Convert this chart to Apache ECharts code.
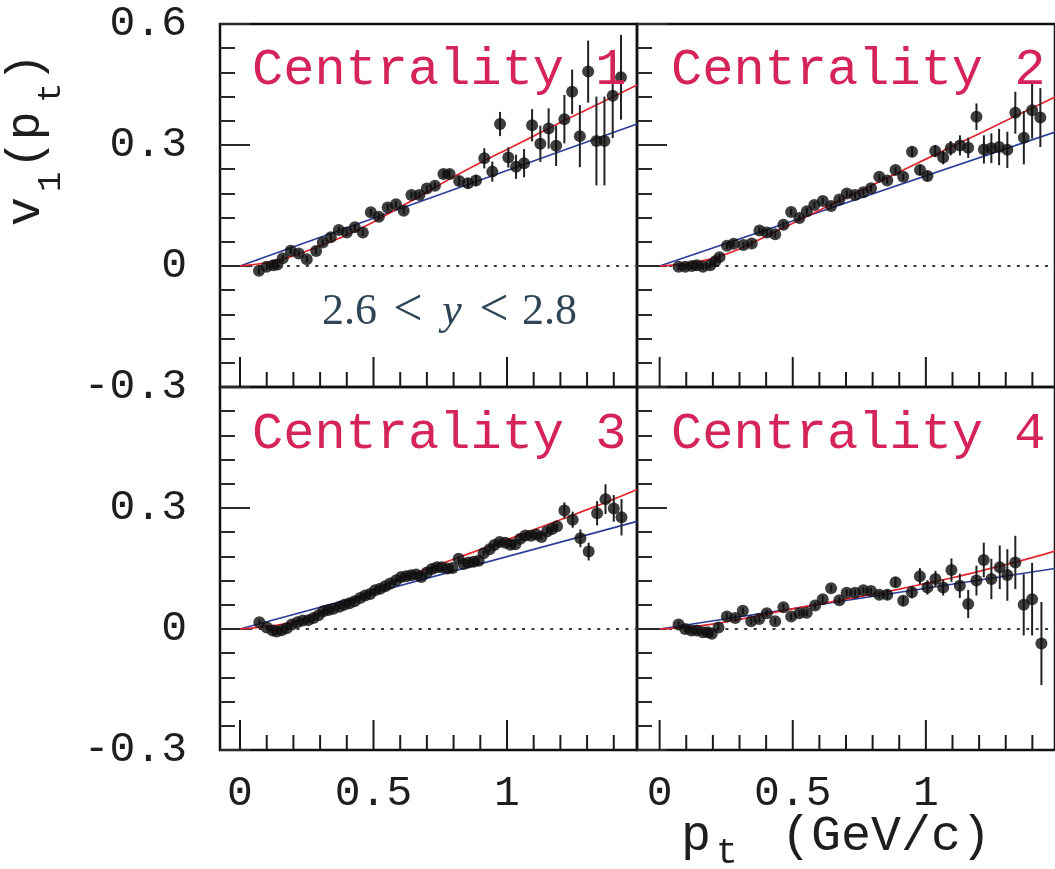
<!DOCTYPE html>
<html>
<head>
<meta charset="utf-8">
<script src="https://cdn.jsdelivr.net/npm/echarts@6/dist/echarts.min.js"></script>
<style>
  html, body { margin: 0; padding: 0; background: #ffffff; }
  #chart { width: 1055px; height: 869px; }
</style>
</head>
<body>
<div id="chart"></div>
<script>
// Directed flow v1 versus transverse momentum, four centrality classes.

// ---- Centrality 1 ----
const pt1 = [0.071,0.10,0.125,0.14,0.16,0.19,0.22,0.25,0.285,0.31,0.34,0.37,0.40,0.43,0.46,0.49,0.52,0.553,0.584,0.613,0.642,0.672,0.70,0.73,0.762,0.785,0.821,0.854,0.884,0.915,0.945,0.974,1.005,1.034,1.064,1.094,1.125,1.156,1.184,1.215,1.244,1.273,1.304,1.335,1.365,1.396,1.427];
const v1c1 = [-0.012,-0.002,0.002,0.004,0.019,0.038,0.031,0.017,0.037,0.058,0.071,0.089,0.083,0.096,0.083,0.133,0.122,0.145,0.153,0.137,0.176,0.176,0.192,0.199,0.228,0.228,0.211,0.205,0.212,0.267,0.234,0.352,0.269,0.246,0.255,0.349,0.303,0.341,0.298,0.364,0.432,0.322,0.482,0.310,0.310,0.422,0.468];
const err1 = [0.008,0.008,0.008,0.008,0.008,0.008,0.008,0.008,0.008,0.008,0.008,0.008,0.008,0.008,0.008,0.008,0.008,0.008,0.008,0.008,0.008,0.008,0.008,0.008,0.010,0.010,0.012,0.012,0.014,0.025,0.025,0.030,0.025,0.030,0.035,0.040,0.045,0.050,0.050,0.060,0.055,0.077,0.077,0.110,0.110,0.105,0.105];
const redFit1 = [[0,0],[0.1,0.008],[0.2,0.025],[0.3,0.050],[0.4,0.077],[0.5,0.109],[0.6,0.146],[0.7,0.183],[0.8,0.221],[0.9,0.256],[1.0,0.289],[1.1,0.322],[1.2,0.356],[1.3,0.388],[1.4,0.420],[1.487,0.449]];
const blueFit1 = [[0,0],[1.487,0.352]];

// ---- Centrality 2 ----
const pt2 = [0.071,0.096,0.121,0.14,0.163,0.19,0.209,0.225,0.253,0.278,0.315,0.346,0.375,0.403,0.434,0.465,0.494,0.525,0.553,0.581,0.613,0.644,0.675,0.703,0.734,0.765,0.794,0.825,0.855,0.886,0.915,0.948,0.978,1.006,1.035,1.065,1.093,1.128,1.159,1.19,1.218,1.246,1.275,1.306,1.336,1.368,1.399,1.43];
const v1c2 = [-0.002,-0.002,0,0.002,-0.002,0.002,0.012,0.022,0.050,0.055,0.052,0.056,0.088,0.083,0.079,0.102,0.134,0.119,0.136,0.151,0.161,0.149,0.165,0.180,0.176,0.183,0.193,0.221,0.212,0.238,0.221,0.283,0.238,0.223,0.285,0.269,0.292,0.299,0.293,0.370,0.289,0.292,0.295,0.288,0.380,0.318,0.386,0.368];
const err2 = [0.008,0.008,0.008,0.008,0.008,0.008,0.008,0.008,0.008,0.008,0.008,0.008,0.008,0.008,0.008,0.008,0.008,0.008,0.008,0.008,0.008,0.008,0.008,0.008,0.008,0.008,0.008,0.008,0.008,0.008,0.008,0.013,0.013,0.013,0.015,0.017,0.018,0.025,0.025,0.033,0.035,0.037,0.045,0.045,0.052,0.066,0.070,0.073];
const redFit2 = [[0,0],[0.1,0.006],[0.2,0.019],[0.3,0.042],[0.4,0.074],[0.5,0.106],[0.6,0.138],[0.7,0.170],[0.8,0.201],[0.9,0.233],[1.0,0.265],[1.1,0.297],[1.2,0.328],[1.3,0.360],[1.4,0.392],[1.485,0.419]];
const blueFit2 = [[0,0],[1.485,0.332]];

// ---- Centrality 3 ----
const pt3 = [0.0725,0.1,0.1225,0.1375,0.156,0.175,0.194,0.215,0.235,0.256,0.275,0.294,0.3125,0.331,0.35,0.3725,0.391,0.41,0.429,0.45,0.469,0.4875,0.506,0.525,0.544,0.5625,0.585,0.604,0.6225,0.641,0.66,0.679,0.70,0.719,0.7375,0.756,0.7775,0.796,0.819,0.8375,0.856,0.875,0.894,0.9125,0.935,0.9525,0.9725,0.994,1.0125,1.031,1.05,1.069,1.09,1.11,1.129,1.15,1.169,1.1875,1.215,1.246,1.275,1.306,1.3375,1.369,1.40,1.429];
const v1c3 = [0.017,0.004,-0.004,-0.006,-0.003,0.002,0.011,0.017,0.021,0.022,0.027,0.034,0.044,0.047,0.050,0.055,0.060,0.064,0.069,0.077,0.083,0.087,0.096,0.100,0.106,0.113,0.121,0.129,0.131,0.133,0.135,0.129,0.140,0.149,0.153,0.153,0.150,0.151,0.174,0.161,0.165,0.167,0.169,0.188,0.198,0.208,0.216,0.214,0.209,0.210,0.224,0.232,0.231,0.234,0.228,0.242,0.248,0.255,0.294,0.271,0.225,0.192,0.287,0.322,0.299,0.277];
const err3 = [0.006,0.006,0.006,0.006,0.006,0.006,0.006,0.006,0.006,0.006,0.006,0.006,0.006,0.006,0.006,0.006,0.006,0.006,0.006,0.006,0.006,0.006,0.006,0.006,0.006,0.006,0.006,0.006,0.006,0.006,0.006,0.006,0.006,0.006,0.006,0.006,0.006,0.006,0.006,0.006,0.006,0.006,0.006,0.006,0.006,0.006,0.006,0.006,0.006,0.006,0.006,0.006,0.006,0.006,0.006,0.006,0.006,0.006,0.020,0.020,0.022,0.022,0.030,0.037,0.033,0.045];
const redFit3 = [[0,0],[0.1,0.006],[0.2,0.017],[0.3,0.041],[0.4,0.067],[0.5,0.098],[0.6,0.124],[0.7,0.149],[0.8,0.173],[0.9,0.197],[1.0,0.221],[1.1,0.246],[1.2,0.271],[1.3,0.296],[1.4,0.322],[1.487,0.346]];
const blueFit3 = [[0,0],[1.487,0.267]];

// ---- Centrality 4 ----
const pt4 = [0.071,0.096,0.119,0.14,0.1625,0.181,0.196,0.221,0.2525,0.284,0.3125,0.344,0.374,0.4025,0.434,0.465,0.494,0.525,0.5525,0.584,0.6125,0.644,0.675,0.7025,0.734,0.765,0.794,0.825,0.855,0.886,0.915,0.9475,0.9775,1.006,1.036,1.065,1.096,1.1275,1.159,1.19,1.2175,1.246,1.2775,1.306,1.336,1.3675,1.399,1.434];
const v1c4 = [0.011,0,-0.004,-0.004,-0.008,-0.008,-0.012,0.004,0.031,0.027,0.045,0.019,0.025,0.039,0.019,0.054,0.031,0.039,0.040,0.058,0.074,0.101,0.071,0.090,0.090,0.096,0.094,0.085,0.085,0.116,0.070,0.091,0.131,0.103,0.124,0.103,0.146,0.107,0.062,0.120,0.171,0.124,0.153,0.134,0.165,0.060,0.074,-0.036];
const err4 = [0.008,0.008,0.008,0.008,0.008,0.008,0.008,0.008,0.008,0.008,0.008,0.008,0.008,0.008,0.008,0.008,0.008,0.008,0.008,0.008,0.008,0.008,0.008,0.008,0.008,0.008,0.008,0.008,0.012,0.012,0.012,0.015,0.020,0.018,0.020,0.020,0.029,0.030,0.035,0.037,0.043,0.050,0.054,0.064,0.066,0.076,0.090,0.103];
const redFit4 = [[0,0],[0.1,0.004],[0.2,0.012],[0.3,0.024],[0.4,0.037],[0.5,0.050],[0.6,0.062],[0.7,0.074],[0.8,0.086],[0.9,0.099],[1.0,0.113],[1.1,0.127],[1.2,0.143],[1.3,0.160],[1.4,0.177],[1.485,0.193]];
const blueFit4 = [[0,0],[1.485,0.150]];

// ---- Axis ticks and labels ----
const xMajorTicks = [0, 0.5, 1];
const xMinorTicks = [0.1, 0.2, 0.3, 0.4, 0.6, 0.7, 0.8, 0.9, 1.1, 1.2, 1.3, 1.4];
const panelTitles = ['Centrality 1', 'Centrality 2', 'Centrality 3', 'Centrality 4'];
const rapidityText = ['2.6', '<', 'y', '<', '2.8'];

const MONO = '"Liberation Mono", "DejaVu Sans Mono", monospace';
const SERIF = '"Liberation Serif", "DejaVu Serif", serif';
const INK = '#1e1e1e';
const TITLE_RED = '#d4245a';
const SLATE = '#2e4555';
const Y_MIN = -0.3, Y_MAX = 0.6;
// tick heights in v1 units (30 px and 15 px on a 363 px tall panel)
const MAJOR_H = 0.0744, MINOR_H = 0.0372;

const panels = [
  { pt: pt1, v: v1c1, err: err1, red: redFit1, blue: blueFit1, left: 220, top: 24,  width: 417, xMin: -0.075, xMax: 1.487, yLab: true,  xLab: false, hideTop: false },
  { pt: pt2, v: v1c2, err: err2, red: redFit2, blue: blueFit2, left: 637, top: 24,  width: 420, xMin: -0.085, xMax: 1.485, yLab: false, xLab: false, hideTop: false },
  { pt: pt3, v: v1c3, err: err3, red: redFit3, blue: blueFit3, left: 220, top: 387, width: 417, xMin: -0.075, xMax: 1.487, yLab: true,  xLab: true,  hideTop: true },
  { pt: pt4, v: v1c4, err: err4, red: redFit4, blue: blueFit4, left: 637, top: 387, width: 420, xMin: -0.085, xMax: 1.485, yLab: false, xLab: true,  hideTop: true }
];

const grids = [], xAxes = [], yAxes = [], series = [];
const tickLine = { color: '#2a2a2a', width: 2 };

// pt-axis tick marks: [value, lower end, upper end]
const xTickData = xMajorTicks.map(t => [t, Y_MIN, Y_MIN + MAJOR_H])
  .concat(xMinorTicks.map(t => [t, Y_MIN, Y_MIN + MINOR_H]));

panels.forEach((p, i) => {
  grids.push({
    left: p.left, top: p.top, width: p.width, height: 363,
    show: true, borderColor: '#111', borderWidth: 2.5
  });

  xAxes.push({
    gridIndex: i, type: 'value', position: 'bottom', min: p.xMin, max: p.xMax,
    axisLine: { show: false, onZero: false }, splitLine: { show: false },
    axisTick: { show: false },
    axisLabel: { show: p.xLab, customValues: xMajorTicks, margin: 22,
                 fontFamily: MONO, fontSize: 43, color: INK,
                 formatter: (val) => String(+val.toFixed(1)) }
  });

  yAxes.push({
    gridIndex: i, type: 'value', min: Y_MIN, max: Y_MAX, interval: 0.3,
    axisLine: { show: false, onZero: false }, splitLine: { show: false },
    axisTick: { show: true, inside: true, length: 30, lineStyle: tickLine },
    minorTick: { show: true, splitNumber: 5, length: 15, lineStyle: tickLine },
    axisLabel: {
      show: p.yLab, margin: 33, fontFamily: MONO, fontSize: 43, color: INK,
      formatter: (val) => {
        if (Math.abs(val) < 1e-9) return '0';
        if (p.hideTop && val > 0.55) return '';
        return val.toFixed(1);
      }
    }
  });

  // tick marks of the pt axis, standing on the lower frame (own canvas layer)
  series.push({
    type: 'custom', xAxisIndex: i, yAxisIndex: i, zlevel: 1, z: 10, silent: true,
    data: xTickData,
    renderItem: (params, api) => {
      const a = api.coord([api.value(0), api.value(1)]);
      const b = api.coord([api.value(0), api.value(2)]);
      return { type: 'line', shape: { x1: a[0], y1: a[1], x2: b[0], y2: b[1] },
               style: { stroke: '#1a1a1a', lineWidth: 2 } };
    }
  });
  // zero reference
  series.push({
    type: 'line', xAxisIndex: i, yAxisIndex: i, data: [[0, 0], [p.xMax, 0]],
    symbol: 'none', silent: true, z: 2,
    lineStyle: { color: '#3a3a4a', width: 2, type: [3, 6.4] }
  });
  // linear fit
  series.push({
    type: 'line', xAxisIndex: i, yAxisIndex: i, data: p.blue,
    symbol: 'none', silent: true, z: 3,
    lineStyle: { color: '#2b3d98', width: 1.7 }
  });
  // curved fit
  series.push({
    type: 'line', xAxisIndex: i, yAxisIndex: i, data: p.red, smooth: 0.3,
    symbol: 'none', silent: true, z: 3,
    lineStyle: { color: '#e3262e', width: 1.7 }
  });
  // statistical error bars
  series.push({
    type: 'custom', xAxisIndex: i, yAxisIndex: i, z: 4, silent: true,
    data: p.pt.map((x, k) => [x, p.v[k], p.err[k]]),
    renderItem: (params, api) => {
      const x = api.value(0), y = api.value(1), e = api.value(2);
      const a = api.coord([x, y - e]);
      const b = api.coord([x, y + e]);
      return { type: 'line', shape: { x1: a[0], y1: a[1], x2: b[0], y2: b[1] },
               style: { stroke: '#222222', lineWidth: 2 } };
    }
  });
  // measured points
  series.push({
    type: 'scatter', xAxisIndex: i, yAxisIndex: i, z: 5, silent: true,
    data: p.pt.map((x, k) => [x, p.v[k]]),
    symbol: 'circle', symbolSize: 12,
    itemStyle: { color: '#0e0e0e' }
  });
});

function txt(x, y, text, font, fill, align, vAlign) {
  return {
    type: 'text', x: x, y: y, silent: true, z: 100,
    style: { text: text, font: font, fill: fill,
             align: align || 'left', verticalAlign: vAlign || 'middle',
             textAlign: align || 'left', textVerticalAlign: vAlign || 'middle' }
  };
}

const graphics = [
  txt(252, 70, panelTitles[0], '52px ' + MONO, TITLE_RED),
  txt(671, 70, panelTitles[1], '52px ' + MONO, TITLE_RED),
  txt(252, 434, panelTitles[2], '52px ' + MONO, TITLE_RED),
  txt(671, 434, panelTitles[3], '52px ' + MONO, TITLE_RED),
  // rapidity window
  txt(322, 312, rapidityText[0], '44px ' + SERIF, SLATE),
  txt(408, 311, rapidityText[1], '52px ' + SERIF, SLATE, 'center'),
  txt(452, 312, rapidityText[2], 'italic 44px ' + SERIF, SLATE, 'center'),
  txt(494, 311, rapidityText[3], '52px ' + SERIF, SLATE, 'center'),
  txt(522, 312, rapidityText[4], '44px ' + SERIF, SLATE),
  // x-axis title: p_t (GeV/c)
  txt(681, 837, 'p', '50px ' + MONO, INK),
  txt(716, 853, 't', '36px ' + MONO, INK),
  txt(781, 837, '(GeV/c)', '50px ' + MONO, INK),
  // y-axis title: v_1(p_t), read bottom to top
  {
    type: 'group', x: 0, y: 230, rotation: Math.PI / 2, silent: true,
    children: [
      txt(4, 26, 'v', '48px ' + MONO, INK),
      txt(38, 51, '1', '34px ' + MONO, INK),
      txt(61, 26, '(p', '48px ' + MONO, INK),
      txt(127, 51, 't', '34px ' + MONO, INK),
      txt(148, 26, ')', '48px ' + MONO, INK)
    ]
  }
];

const chart = echarts.init(document.getElementById('chart'), null, { renderer: 'canvas' });
chart.setOption({
  backgroundColor: '#ffffff',
  animation: false,
  grid: grids,
  xAxis: xAxes,
  yAxis: yAxes,
  series: series,
  graphic: graphics
});
</script>
</body>
</html>
